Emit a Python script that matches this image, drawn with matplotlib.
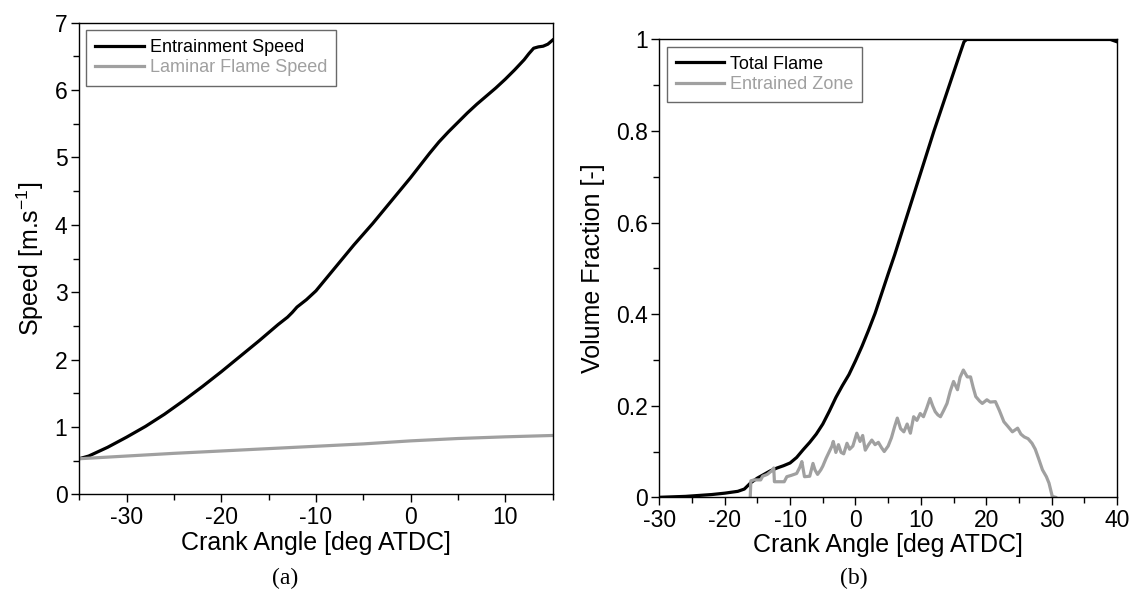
import matplotlib
matplotlib.use("Agg")
import matplotlib.pyplot as plt
from matplotlib.ticker import MultipleLocator, FuncFormatter

plt.rcParams['font.family'] = ['Liberation Sans', 'DejaVu Sans']
plt.rcParams['mathtext.default'] = 'regular'
plt.rcParams['axes.unicode_minus'] = False

# (a) entrainment / laminar flame speed vs crank angle
ca_ent = [-35, -34, -32, -30, -28, -26, -25, -24, -22, -20, -18, -16, -14, -13, -12.5,
          -12, -11, -10, -9, -8, -7, -6, -5, -4, -3, -2, -1, 0, 1, 2, 3, 4, 5, 6, 7,
          8, 9, 10, 11, 12, 12.5, 13, 13.5, 14, 14.5, 15]
v_ent = [0.53, 0.57, 0.70, 0.85, 1.01, 1.19, 1.29, 1.39, 1.60, 1.82, 2.05, 2.28, 2.52, 2.63, 2.70,
         2.78, 2.89, 3.02, 3.19, 3.36, 3.53, 3.70, 3.86, 4.02, 4.19, 4.36, 4.53, 4.70, 4.88, 5.06, 5.23,
         5.38, 5.52, 5.66, 5.79, 5.91, 6.03, 6.16, 6.30, 6.45, 6.54, 6.62, 6.64, 6.65, 6.68, 6.74]

ca_lam = [-35, -30, -25, -20, -15, -10, -5, 0, 5, 10, 15]
v_lam = [0.53, 0.57, 0.61, 0.645, 0.68, 0.715, 0.75, 0.795, 0.83, 0.855, 0.875]

# (b) volume fractions
ca_tot = [-30, -28, -26, -24, -22, -20, -18, -17, -16, -15, -14, -13, -12, -11, -10, -9, -8,
          -7, -6, -5, -4, -3, -2, -1, 0, 1, 2, 3, 4, 5, 6, 8, 10, 12, 14, 16, 16.6, 17, 20,
          25, 30, 35, 39, 40]
vf_tot = [0.0, 0.001, 0.002, 0.004, 0.006, 0.009, 0.013, 0.018, 0.032, 0.042, 0.050, 0.058,
          0.064, 0.069, 0.075, 0.087, 0.104, 0.120, 0.138, 0.160, 0.188, 0.218, 0.244, 0.268,
          0.298, 0.330, 0.365, 0.402, 0.445, 0.488, 0.530, 0.620, 0.710, 0.800, 0.885, 0.970,
          0.995, 1.0, 1.0, 1.0, 1.0, 1.0, 1.0, 0.995]

ca_ez = [-16.1, -16.0, -15.5, -14.5, -14.2, -13.5, -12.8, -12.5, -12.4, -11.5, -10.9, -10.5,
         -9.8, -9.0, -8.5, -8.2, -7.8, -7.0, -6.5, -6.2, -5.8, -5.3, -5.0, -4.5, -4.0, -3.6,
         -3.4, -3.0, -2.6, -2.2, -1.8, -1.3, -0.9, -0.4, 0.2, 0.7, 1.1, 1.5, 2.0, 2.5, 3.0,
         3.5, 4.0, 4.4, 5.0, 5.5, 6.0, 6.4, 6.9, 7.4, 7.9, 8.4, 8.9, 9.4, 9.9, 10.4, 10.9,
         11.4, 11.8, 12.2, 12.6, 13.0, 13.5, 14.0, 14.5, 15.0, 15.6, 16.0, 16.5, 17.1, 17.6,
         18.0, 18.4, 19.0, 19.4, 20.1, 20.6, 21.4, 22.0, 22.7, 23.3, 24.0, 24.8, 25.3, 25.8,
         26.4, 27.0, 27.5, 28.0, 28.6, 29.2, 29.6, 30.1, 30.6]
vf_ez = [0.0, 0.036, 0.038, 0.038, 0.046, 0.050, 0.058, 0.064, 0.034, 0.034, 0.034, 0.045,
         0.048, 0.052, 0.066, 0.078, 0.045, 0.046, 0.074, 0.060, 0.050, 0.060, 0.068, 0.085,
         0.100, 0.112, 0.122, 0.098, 0.115, 0.098, 0.095, 0.118, 0.105, 0.112, 0.140, 0.122,
         0.135, 0.103, 0.115, 0.125, 0.115, 0.120, 0.108, 0.100, 0.112, 0.130, 0.155, 0.173,
         0.150, 0.143, 0.160, 0.140, 0.176, 0.168, 0.183, 0.176, 0.195, 0.216, 0.200, 0.187,
         0.180, 0.176, 0.190, 0.205, 0.232, 0.253, 0.235, 0.262, 0.278, 0.263, 0.263, 0.240,
         0.220, 0.210, 0.205, 0.213, 0.208, 0.209, 0.190, 0.165, 0.155, 0.143, 0.151, 0.138,
         0.132, 0.128, 0.118, 0.105, 0.085, 0.060, 0.045, 0.031, 0.002, 0.0]

grey = '#a0a0a0'
lw = 2.3

fig = plt.figure(figsize=(11.37, 6.03), dpi=100)
ax1 = fig.add_axes([0.0697, 0.180, 0.4163, 0.7825])
ax2 = fig.add_axes([0.5799, 0.1753, 0.4025, 0.7592])


def style(ax):
    for s in ax.spines.values():
        s.set_linewidth(1.0)
    ax.tick_params(which='both', direction='out', top=False, right=False,
                   labelsize=16.5, width=1.0, pad=2.5)
    ax.tick_params(which='major', length=6)
    ax.tick_params(which='minor', length=4)


# 作图 (a)
ax1.plot(ca_ent, v_ent, color='black', lw=lw, label='Entrainment Speed')
ax1.plot(ca_lam, v_lam, color=grey, lw=lw, label='Laminar Flame Speed')
ax1.set_xlim(-35, 15)
ax1.set_ylim(0, 7)
ax1.xaxis.set_major_locator(MultipleLocator(10))
ax1.xaxis.set_minor_locator(MultipleLocator(5))
ax1.yaxis.set_major_locator(MultipleLocator(1))
ax1.yaxis.set_minor_locator(MultipleLocator(0.5))
ax1.set_xlabel('Crank Angle [deg ATDC]', fontsize=18, labelpad=1)
ax1.set_ylabel('Speed [m.s$^{-1}$]', fontsize=18, labelpad=6)
style(ax1)

# 作图 (b)
ax2.plot(ca_tot, vf_tot, color='black', lw=lw, label='Total Flame')
ax2.plot(ca_ez, vf_ez, color=grey, lw=lw, label='Entrained Zone')
ax2.set_xlim(-30, 40)
ax2.set_ylim(0, 1)
ax2.xaxis.set_major_locator(MultipleLocator(10))
ax2.xaxis.set_minor_locator(MultipleLocator(5))
ax2.yaxis.set_major_locator(MultipleLocator(0.2))
ax2.yaxis.set_minor_locator(MultipleLocator(0.1))
ax2.yaxis.set_major_formatter(FuncFormatter(lambda v, p: '{:g}'.format(round(v, 2))))
ax2.set_xlabel('Crank Angle [deg ATDC]', fontsize=18, labelpad=1)
ax2.set_ylabel('Volume Fraction [-]', fontsize=18, labelpad=8)
style(ax2)

for ax in (ax1, ax2):
    leg = ax.legend(loc='upper left', fontsize=13, frameon=True, fancybox=False,
                    handlelength=2.7, handletextpad=0.3, labelspacing=0.2,
                    borderpad=0.5, borderaxespad=0.4)
    leg.get_frame().set_edgecolor('#444444')
    leg.get_frame().set_linewidth(1.0)
    leg.get_texts()[1].set_color(grey)

fig.text(0.251, 0.040, '(a)', fontsize=17, family='Liberation Serif', ha='center', va='center')
fig.text(0.751, 0.040, '(b)', fontsize=17, family='Liberation Serif', ha='center', va='center')

fig.savefig('out.png', dpi=100)
